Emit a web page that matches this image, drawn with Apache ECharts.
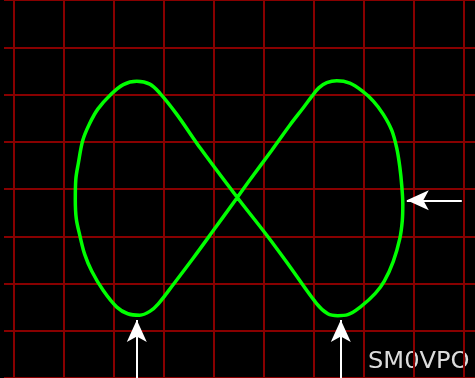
<!DOCTYPE html>
<html>
<head>
    <meta charset="utf-8">
    <title>Scope trace</title>
    <script src="https://cdn.jsdelivr.net/npm/echarts@6/dist/echarts.min.js"></script>
</head>
<style>
    *{
        padding: 0;
        margin: 0;
    }
    #main {
        width: 475px;
        height: 378px;
        position: absolute
    }
</style>
<body>
    <div id="main"></div>
    <script type="text/javascript">
    // trace position in screen divisions (x: 0..9, y: 0..8 from bottom)
    var traceX = [4.48, 4.73, 5.17, 5.53, 5.80, 5.97, 6.11, 6.27, 6.47, 6.73, 6.97, 7.20, 7.40, 7.57, 7.67, 7.73, 7.77, 7.79, 7.78, 7.73,
                  7.60, 7.42, 7.24, 6.95, 6.69, 6.49, 6.29, 6.07, 5.53, 5.07, 4.48, 3.75, 3.27, 2.93, 2.73, 2.47, 2.20, 1.95, 1.69, 1.52,
                  1.39, 1.30, 1.25, 1.24, 1.26, 1.33, 1.43, 1.57, 1.80, 2.07, 2.29, 2.53, 2.73, 2.90, 3.20, 3.60, 4.00, 4.48];
    var traceY = [3.82, 4.19, 4.82, 5.35, 5.72, 5.96, 6.14, 6.25, 6.29, 6.24, 6.08, 5.86, 5.58, 5.24, 4.86, 4.47, 4.06, 3.68, 3.33, 2.95,
                  2.47, 2.05, 1.79, 1.51, 1.34, 1.32, 1.36, 1.57, 2.36, 3.02, 3.82, 4.85, 5.58, 6.03, 6.22, 6.28, 6.21, 6.00, 5.69, 5.37,
                  5.03, 4.54, 4.20, 3.78, 3.37, 3.02, 2.61, 2.26, 1.85, 1.50, 1.36, 1.33, 1.41, 1.57, 1.98, 2.54, 3.12, 3.82];

    // marker arrows: [fromX, fromY, toX, toY]
    var arrows = [
        [2.47, 0.0, 2.47, 1.23],
        [6.55, 0.0, 6.55, 1.23],
        [8.97, 3.76, 7.87, 3.76]
    ];

    var signature = 'SM0VPO';

    var data = traceX.map(function (x, i) { return [x, traceY[i]]; });
    var arrowLines = arrows.map(function (a) {
        return [{ coord: [a[0], a[1]] }, { coord: [a[2], a[3]] }];
    });

    var gridRed = '#880000';
    var myChart = echarts.init(document.getElementById('main'));
    var option = {
        backgroundColor: '#000000',
        animation: false,
        graphic: [{
            type: 'text',
            x: 368,
            y: 350.5,
            scaleX: 1.05,
            silent: true,
            style: {
                text: signature,
                fill: '#dcdcdc',
                font: '23px "DejaVu Sans"',
                verticalAlign: 'top'
            }
        }],
        grid: [
            { left: 13.3, right: 11.7, top: -3.2, bottom: -4.2 },
            { left: 4, right: 0, top: -3.2, bottom: -4.2 }
        ],
        xAxis: [
            {
                type: 'value', gridIndex: 0, min: 0, max: 9, interval: 1,
                axisLine: { show: false }, axisTick: { show: false }, axisLabel: { show: false },
                splitLine: { show: true, lineStyle: { color: gridRed, width: 2 } }
            },
            {
                type: 'value', gridIndex: 1, min: 0, max: 1,
                axisLine: { show: false }, axisTick: { show: false }, axisLabel: { show: false },
                splitLine: { show: false }
            }
        ],
        yAxis: [
            {
                type: 'value', gridIndex: 0, min: 0, max: 8, interval: 1,
                axisLine: { show: false }, axisTick: { show: false }, axisLabel: { show: false },
                splitLine: { show: false }
            },
            {
                type: 'value', gridIndex: 1, min: 0, max: 8, interval: 1,
                axisLine: { show: false }, axisTick: { show: false }, axisLabel: { show: false },
                splitLine: { show: true, lineStyle: { color: gridRed, width: 2 } }
            }
        ],
        series: [{
            type: 'line',
            xAxisIndex: 0,
            yAxisIndex: 0,
            data: data,
            showSymbol: false,
            smooth: 0.35,
            lineStyle: { color: '#00ff00', width: 3.5 },
            markLine: {
                silent: true,
                symbol: ['none', 'arrow'],
                symbolSize: [15, 22],
                label: { show: false },
                lineStyle: { color: '#ffffff', width: 2, type: 'solid' },
                data: arrowLines
            }
        }]
    };
    myChart.setOption(option);
    </script>
</body>
</html>
